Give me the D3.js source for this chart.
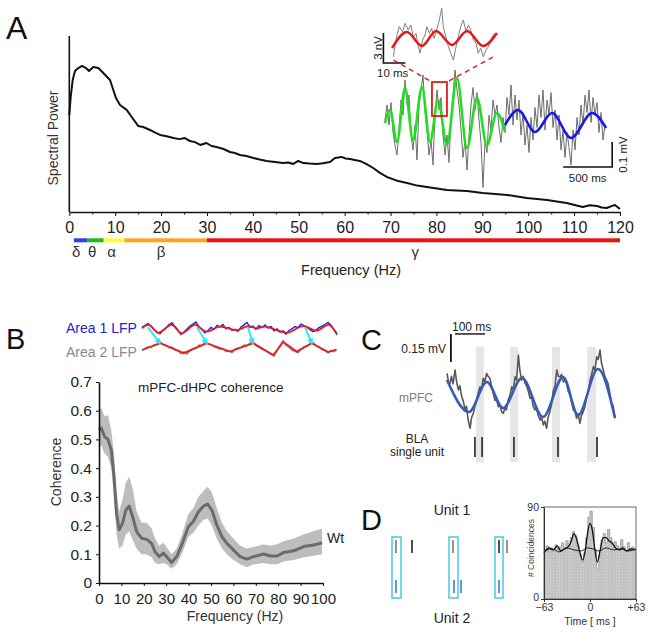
<!DOCTYPE html>
<html><head><meta charset="utf-8">
<script src="https://cdn.jsdelivr.net/npm/d3@7"></script>
<style>
body{margin:0;background:#fff}
svg{display:block}
text{font-family:"Liberation Sans",Arial,Helvetica,sans-serif}
</style>
</head><body>
<svg id="chart" width="649" height="636"></svg>
<script>
// ---------------- DATA ----------------
// Panel A: spectral power (arbitrary units) vs frequency (Hz)
const specFreq  = [0,0.3,0.74,1.24,1.96,2.77,3.64,4.29,5.23,6.32,7.41,8.87,9.59,10.17,11.05,12.5,13.6,15.0,16.1,17.6,18.6,19.8,21.2,22.7,24.0,25.2,26.3,27.4,28.5,29.9,31.0,32.1,33.6,35.0,36.1,37.2,38.6,40.1,41.5,43.0,44.8,46.6,47.7,48.8,49.9,51.0,52.4,53.9,55.3,56.8,57.9,59.3,60.2,61.2,62.2,63.3,64.8,66.2,67.7,69.2,71.4,73.6,75.8,77.9,80.1,82.3,84.4,86.6,88.4,90.1,92.8,95.4,97.6,99.7,101.9,104.1,106.2,108.4,110.1,111.9,113.4,115.0,116.0,117.1,118.0,118.9,120];
const specPower = [0.551,0.653,0.750,0.801,0.818,0.830,0.818,0.801,0.824,0.818,0.790,0.750,0.693,0.648,0.608,0.580,0.540,0.489,0.483,0.466,0.452,0.438,0.430,0.420,0.414,0.420,0.403,0.397,0.381,0.392,0.375,0.369,0.358,0.341,0.335,0.324,0.318,0.307,0.298,0.290,0.284,0.278,0.281,0.273,0.290,0.278,0.275,0.273,0.277,0.284,0.307,0.313,0.304,0.301,0.295,0.290,0.272,0.250,0.222,0.199,0.178,0.165,0.150,0.142,0.134,0.125,0.122,0.119,0.113,0.108,0.102,0.097,0.088,0.080,0.074,0.068,0.060,0.051,0.040,0.028,0.038,0.034,0.026,0.023,0.032,0.040,0.017];
const specTicks = [0,10,20,30,40,50,60,70,80,90,100,110,120];
const bandEdges = [1,4,7.5,12,30,120];
const bandSymbols = ["δ","θ","α","β","γ"];
const bandSymbolHz = [1.5,5,9.2,20,75.4];

// Panel A inset: main LFP (mV, time ms)
const insetGrayStepMs = 20.4;
const insetGray = [0.00,0.06,-0.02,0.07,-0.05,-0.10,-0.14,-0.04,0.08,0.02,0.16,0.06,0.10,-0.06,-0.12,-0.02,-0.16,0.06,0.12,0.18,0.04,-0.04,-0.14,-0.08,-0.18,0.02,0.12,0.04,0.09,-0.06,-0.14,-0.06,-0.17,0.00,0.10,0.20,0.12,0.06,-0.04,-0.15,-0.08,-0.20,-0.06,0.06,0.13,0.04,0.11,0.00,-0.09,-0.27,-0.08,-0.13,0.02,-0.04,0.08,0.02,0.06,-0.03,-0.09,0.01,-0.05,0.09,0.02,0.14,-0.02,0.10,0.00,0.08,-0.06,0.03,-0.10,-0.02,-0.13,0.01,-0.08,0.05,-0.03,0.10,0.01,0.12,-0.04,0.08,0.02,0.11,-0.03,0.04,-0.08,0.02,-0.12,-0.04,-0.15,-0.05,-0.11,-0.18,-0.04,-0.12,0.01,-0.06,0.06,-0.02,0.10,0.03,0.12,-0.01,0.09,0.02,0.07,-0.05,0.03,-0.08,-0.02];
const insetGreenMs = [0,51,122,204,286,377,459,541,632,734,836,938,1040,1142,1224];
const insetGreenMv = [-0.012,0.04,-0.088,0.128,-0.08,0.132,-0.088,0.08,-0.1,0.168,-0.112,0.088,-0.1,0.028,-0.048];
const insetBlueMs = [1224,1357,1530,1704,1898,2112,2255];
const insetBlueMv = [-0.02,0.04,-0.048,0.028,-0.072,0.028,-0.032];
// zoomed gamma snippet (nV, ms)
const zoomGrayMs = [0.6,2.1,3.3,4.8,5.9,7.4,8.5,9.7,10.9,12.0,12.7,13.9,15.0,15.8,17.0,18.0,19.1,20.3,21.5,22.6,23.3,24.5,25.6,26.7,27.9,29.1,30.1,31.2,32.4,33.6,34.7,35.8,37.0,38.2,39.2,40.3,41.5,42.7,43.8,44.8,46.0,46.6];
const zoomGrayNv = [-1.67,0.33,1.33,0.83,1.67,1.0,1.5,0.33,0.67,-0.67,-1.33,0,0.5,1.33,0.67,1.17,0.17,1.0,2.0,3.17,1.33,0.33,-0.67,-1.33,-2.0,-0.67,0.33,1.33,2.0,0.83,1.5,1.0,0,-0.33,-1.33,-0.83,-1.67,-1.0,-0.67,0,0.5,0.67];
const zoomRedMs = [0,6.8,13.6,20,27.3,34.1,41.4,47.7];
const zoomRedNv = [-0.8,0.8,-0.6,0.9,-0.5,0.9,-0.6,0.7];

// Panel B: example LFPs
const bTraceStep = 3;
const area1Blue = [0.3,0.8,1.2,0.6,-0.2,-0.9,-1.3,-0.5,0.2,1.0,1.4,0.5,-0.4,-1.5,-0.9,-0.1,0.6,1.1,1.6,0.4,-0.3,-1.1,-0.5,0.3,-0.2,0.8,0.4,1.0,-0.1,0.3,-0.5,-0.2,-0.7,0.4,0.9,1.5,0.3,0.6,-0.2,0.7,0.2,0.9,0.1,0.5,-0.6,-0.1,-0.9,-0.6,-1.4,-0.5,-0.1,0.5,0.2,1.1,0.7,0.3,-0.3,-0.8,-0.4,0.2,0.6,1.0,1.5,0.8,-0.3,-1.6];
const area1RedT = [0,6.3,16.3,29.7,39.7,53,64.7,78,94.7,106.3,114.7,123,134.7,144.7,161.3,174.7,186.3,194.7];
const area1RedV = [0.05,0.9,-1.05,0.9,-1.2,0.9,-0.8,0.45,-0.4,0.6,0.05,0.45,-0.4,-1.05,0.6,-0.55,0.9,-1.2];
const area2Gray = [-0.6,-0.1,0.3,0.2,0.8,0.9,1.5,0.9,0.7,0.1,0.2,-0.5,-0.6,-1.4,-1.0,-1.5,-0.6,-0.1,0.0,0.7,0.6,1.4,1.0,0.9,0.3,0.0,-0.3,-0.2,-0.9,-0.7,-1.1,-0.3,0.0,0.2,0.7,0.6,1.2,1.5,0.6,0.2,-0.3,-0.6,-1.1,-1.5,-2.0,-0.6,0.6,1.8,0.7,0.2,-0.6,-0.8,-1.2,-0.3,0.3,0.5,1.1,1.4,0.6,0.2,-0.4,-0.7,-1.2,-0.6,-0.9,-0.4];
const area2RedT = [0,18.3,41.7,64.7,88,111.3,131.3,141.3,154.7,169.7,186.3,194];
const area2RedV = [-0.5,1.2,-1.3,1.2,-0.9,1.2,-1.75,1.5,-0.9,1.2,-1.0,-0.4];
const arrowT = [[6,18],[55,65],[106,111],[163,170]];

// Panel B: coherence
const cohFreq = [0,1,2.5,4,5.5,6.7,7.8,9,10.5,12,13.5,15,16.8,19,21.3,23.5,25,26.9,28.7,30.2,32.4,34.7,36.9,39.9,42.1,44.4,46.7,48.5,50.4,52.6,54.9,57.1,60,63,66,69,73.5,76.5,79.5,82.4,86.9,91.4,95.8,99.6];
const cohMean = [0.533,0.54,0.51,0.50,0.463,0.37,0.244,0.185,0.208,0.254,0.268,0.231,0.179,0.156,0.152,0.138,0.109,0.092,0.104,0.092,0.071,0.092,0.132,0.196,0.214,0.248,0.268,0.275,0.254,0.202,0.161,0.138,0.115,0.092,0.083,0.092,0.101,0.094,0.094,0.106,0.112,0.127,0.132,0.140];
const cohLow  = [0.47,0.48,0.45,0.44,0.40,0.30,0.17,0.12,0.13,0.17,0.18,0.15,0.12,0.10,0.10,0.09,0.07,0.065,0.07,0.065,0.05,0.065,0.10,0.16,0.175,0.20,0.22,0.225,0.20,0.155,0.12,0.10,0.08,0.065,0.055,0.065,0.07,0.065,0.065,0.075,0.08,0.09,0.095,0.10];
const cohHigh = [0.60,0.61,0.58,0.585,0.53,0.45,0.32,0.25,0.29,0.35,0.37,0.33,0.25,0.21,0.21,0.19,0.155,0.13,0.14,0.125,0.10,0.12,0.165,0.24,0.26,0.30,0.32,0.335,0.315,0.26,0.21,0.18,0.155,0.13,0.12,0.125,0.135,0.13,0.135,0.145,0.155,0.17,0.18,0.19];
const cohXTicks = [0,10,20,30,40,50,60,70,80,90,100];
const cohYTicks = [0,0.1,0.2,0.3,0.4,0.5,0.6,0.7];

// Panel C: mPFC LFP and BLA spikes (ms, mV)
const cGray = [[0,0.116],[5,0.07],[10,0.063],[15,0.10],[20,0.06],[27,0.134],[32,0.07],[38,0.027],[43,0.05],[49,-0.009],[54,-0.03],[60,-0.080],[65,-0.06],[70,-0.13],[77,-0.178],[82,-0.12],[88,-0.098],[93,-0.06],[99,-0.027],[104,0.01],[110,0.044],[115,0.03],[121,0.090],[126,0.07],[132,0.116],[137,0.10],[143,0.090],[148,0.05],[154,0.009],[160,-0.03],[165,-0.02],[171,-0.063],[176,-0.05],[182,-0.09],[188,-0.098],[193,-0.07],[198,-0.08],[204,-0.027],[210,0.00],[216,0.044],[221,0.03],[227,0.098],[232,0.08],[238,0.214],[243,0.13],[249,0.080],[254,0.10],[260,0.063],[265,0.05],[271,0.02],[277,-0.018],[282,-0.01],[287,-0.06],[293,-0.080],[298,-0.07],[304,-0.11],[310,-0.134],[315,-0.12],[321,-0.16],[326,-0.14],[332,-0.178],[337,-0.12],[343,-0.09],[349,-0.044],[354,0.02],[360,0.05],[366,0.134],[371,0.10],[377,0.098],[382,0.11],[388,0.07],[393,0.08],[399,0.063],[404,0.02],[410,0.00],[416,-0.044],[421,-0.08],[427,-0.09],[432,-0.125],[437,-0.10],[443,-0.152],[448,-0.11],[454,-0.09],[460,-0.063],[465,-0.01],[471,0.02],[477,0.080],[482,0.11],[488,0.152],[493,0.13],[499,0.205],[504,0.19],[510,0.241],[515,0.17],[521,0.134],[526,0.10],[532,0.080],[537,0.06],[543,0.009],[548,-0.04],[554,-0.06],[560,-0.125]];
const cBlueMs = [0,73,133,187,250,320,387,437,503,560];
const cBlueMv = [0.080,-0.091,0.070,-0.070,0.091,-0.118,0.096,-0.107,0.139,-0.123];
const cShadeMs = [[97,123],[210,237],[350,377],[467,497]];
const cSpikesMs = [93,117,223,370,500];

// Panel D: raster + cross-correlogram
const dWindows = [[0,9],[57,66],[103,111]];
const unit1Spikes = [4,20,61,107,115];
const unit1Tone = ["mid","dark","mid","dark","mid"];
const unit2Spikes = [4,62,69,107];
const histBinMs = 3;
const histCenters = [-61.5,-58.5,-55.5,-52.5,-49.5,-46.5,-43.5,-40.5,-37.5,-34.5,-31.5,-28.5,-25.5,-22.5,-19.5,-16.5,-13.5,-10.5,-7.5,-4.5,-1.5,1.5,4.5,7.5,10.5,13.5,16.5,19.5,22.5,25.5,28.5,31.5,34.5,37.5,40.5,43.5,46.5,49.5,52.5,55.5,58.5,61.5];
const histCounts = [48,52,46,50,47,53,49,51,55,50,57,52,60,66,62,52,44,36,45,60,80,86,70,48,30,42,58,64,55,68,60,50,56,52,49,58,51,47,55,49,51,47];
const smoothT = [-63,-56,-50,-45,-40,-35,-30,-26,-22,-18,-14,-10,-6,-3,0,3,6,10,14,18,22,26,30,35,40,45,50,56,63];
const smoothV = [45,50,48,52,47,49,51,56,64,58,46,38,50,66,74,68,52,36,48,60,60,57,55,50,48,50,47,49,48];
const flatT = [-63,-52,-42,-32,-22,-12,-4,4,12,22,32,42,52,63];
const flatV = [47,49,46,50,48,47,50,49,47,50,48,49,47,49];

// ---------------- DRAWING ----------------
const svg = d3.select("#chart");
const FONT = '"Liberation Sans",Arial,sans-serif';
function txt(g, x, y, s, size, opts={}) {
  const t = g.append("text").attr("x", x).attr("y", y).text(s)
    .attr("font-size", size).attr("fill", opts.fill || "#222")
    .attr("text-anchor", opts.anchor || "start");
  if (opts.family) t.attr("font-family", opts.family);
  if (opts.rotate) t.attr("transform", `rotate(-90,${x},${y})`);
  if (opts.baseline) t.attr("dominant-baseline", opts.baseline);
  return t;
}
function zip(a, b) { return a.map((v, i) => [v, b[i]]); }

const defs = svg.append("defs");
const pat = defs.append("pattern").attr("id","stipple").attr("patternUnits","userSpaceOnUse")
  .attr("width",3).attr("height",3);
pat.append("rect").attr("width",3).attr("height",3).attr("fill","#c2c2c2");
pat.append("rect").attr("x",1).attr("y",1).attr("width",1).attr("height",1).attr("fill","#d0d0d0");

// Panel letters
txt(svg, 6, 39, "A", 32, {fill:"#111"});
txt(svg, 6, 349, "B", 29, {fill:"#111"});
txt(svg, 361, 350, "C", 29, {fill:"#111"});
txt(svg, 361, 530, "D", 29, {fill:"#111"});

// ===== Panel A =====
const xA = d3.scaleLinear([0,120],[69.3,620]);
const yA = d3.scaleLinear([0,1],[212,36]);
const gA = svg.append("g");
gA.append("line").attr("x1", xA(0)).attr("x2", xA(0)).attr("y1", yA(0)).attr("y2", yA(1))
  .attr("stroke","#111").attr("stroke-width",1.6);
const axA = gA.append("g").attr("transform",`translate(0,${yA(0)})`)
  .call(d3.axisBottom(xA).tickValues(specTicks).tickSize(4).tickSizeOuter(0).tickPadding(6).tickFormat(d3.format("d")));
axA.select(".domain").attr("stroke","#111").attr("stroke-width",1.4);
axA.selectAll(".tick line").attr("stroke","#111");
axA.selectAll("text").attr("font-size",16).attr("font-family",FONT).attr("fill","#222");
gA.append("g").attr("transform",`translate(0,${yA(0)})`)
  .call(d3.axisBottom(xA).tickValues(d3.range(5,120,10)).tickSize(2.5).tickFormat(""))
  .call(g => g.select(".domain").remove())
  .selectAll(".tick line").attr("stroke","#111");
gA.append("path").datum(zip(specFreq, specPower))
  .attr("d", d3.line().x(d => xA(d[0])).y(d => yA(d[1])))
  .attr("fill","none").attr("stroke","#111").attr("stroke-width",2).attr("stroke-linejoin","round");
txt(gA, 53, 138, "Spectral Power", 14, {anchor:"middle", rotate:true, fill:"#333", baseline:"central"});

// band bar
const bandColors = ["#3040ee","#20b820","#ffff30","#ffa51e","#f01010"];
for (let i = 0; i < 5; i++) {
  gA.append("rect").attr("x", xA(bandEdges[i])).attr("width", xA(bandEdges[i+1]) - xA(bandEdges[i]))
    .attr("y", 238.3).attr("height", 4).attr("fill", bandColors[i]);
  txt(gA, xA(bandSymbolHz[i]), 257, bandSymbols[i], 15, {anchor:"middle", family:'"Liberation Serif","Times New Roman",serif', fill:"#333"});
}
txt(gA, xA(61.4), 275, "Frequency (Hz)", 14.5, {anchor:"middle", fill:"#222"});

// inset main trace
const xI = d3.scaleLinear([0,2255],[385,606.1]);
const yI = d3.scaleLinear([0,0.1],[120,95]);
const lineI = d3.line().x(d => xI(d[0])).y(d => yI(d[1]));
gA.append("path").datum(insetGray.map((v,i) => [i*insetGrayStepMs, v]))
  .attr("d", lineI).attr("fill","none").attr("stroke","#6c6c6c").attr("stroke-width",1);
gA.append("path").datum(zip(insetGreenMs, insetGreenMv))
  .attr("d", lineI.curve(d3.curveMonotoneX)).attr("fill","none").attr("stroke","#22dd22").attr("stroke-width",2.6);
gA.append("path").datum(zip(insetBlueMs, insetBlueMv))
  .attr("d", lineI.curve(d3.curveMonotoneX)).attr("fill","none").attr("stroke","#1a1ae6").attr("stroke-width",2.6);
// scale bar
gA.append("path").attr("d", `M${xI(1817)},${yI(-0.188)}H${xI(2317)}V${yI(-0.088)}`)
  .attr("fill","none").attr("stroke","#111").attr("stroke-width",1.6);
txt(gA, xI(2067), 182, "500 ms", 11.5, {anchor:"middle"});
txt(gA, 623, yI(-0.138), "0.1 mV", 11.5, {anchor:"middle", rotate:true, baseline:"central"});

// zoom snippet
const xT = d3.scaleLinear([0,47.7],[392,497]);
const yT = d3.scaleLinear([0,1],[40,30]);
const lineT = d3.line().x(d => xT(d[0])).y(d => yT(d[1]));
gA.append("path").datum(zip(zoomGrayMs, zoomGrayNv)).attr("d", lineT)
  .attr("fill","none").attr("stroke","#808080").attr("stroke-width",1);
gA.append("path").datum(zip(zoomRedMs, zoomRedNv)).attr("d", lineT.curve(d3.curveMonotoneX))
  .attr("fill","none").attr("stroke","#e41a1a").attr("stroke-width",2.4);
gA.append("path").attr("d", `M${xT(-3.9)},${yT(0.7)}V${yT(-2.3)}H${xT(6.1)}`)
  .attr("fill","none").attr("stroke","#111").attr("stroke-width",1.6);
txt(gA, 378, yT(-0.8), "3 nV", 11.5, {anchor:"middle", rotate:true, baseline:"central"});
txt(gA, 377, 77, "10 ms", 11.5);
// zoom box and dashed connectors
const rx0 = xI(479), rx1 = xI(632), ry0 = yI(0.152), ry1 = yI(0.016);
gA.append("rect").attr("x", rx0).attr("y", ry0).attr("width", rx1-rx0).attr("height", ry1-ry0)
  .attr("fill","none").attr("stroke","#e41a1a").attr("stroke-width",1.8);
gA.append("line").attr("x1", xT(0.6)).attr("y1", yT(-2)).attr("x2", rx0).attr("y2", ry0)
  .attr("stroke","#e41a1a").attr("stroke-width",1.4).attr("stroke-dasharray","5,4");
gA.append("line").attr("x1", xT(45.9)).attr("y1", yT(-1.7)).attr("x2", rx1).attr("y2", ry0)
  .attr("stroke","#e41a1a").attr("stroke-width",1.4).attr("stroke-dasharray","5,4");

// ===== Panel B =====
const gB = svg.append("g");
txt(gB, 66, 333, "Area 1 LFP", 14, {fill:"#2424c8"});
txt(gB, 66, 357, "Area 2 LFP", 14, {fill:"#8a8a8a"});
const xBt = d3.scaleLinear([0,195],[142,337]);
const yTop = d3.scaleLinear([0,1],[328.5,324.5]);
const yBot = d3.scaleLinear([0,1],[348,344]);
gB.append("path").datum(area1Blue.map((v,i) => [i*bTraceStep, v]))
  .attr("d", d3.line().x(d => xBt(d[0])).y(d => yTop(d[1])))
  .attr("fill","none").attr("stroke","#2020e0").attr("stroke-width",1.4);
gB.append("path").datum(zip(area1RedT, area1RedV))
  .attr("d", d3.line().curve(d3.curveMonotoneX).x(d => xBt(d[0])).y(d => yTop(d[1])))
  .attr("fill","none").attr("stroke","#e81e1e").attr("stroke-width",1.8);
gB.append("path").datum(area2Gray.map((v,i) => [i*bTraceStep, v]))
  .attr("d", d3.line().x(d => xBt(d[0])).y(d => yBot(d[1])))
  .attr("fill","none").attr("stroke","#8a8a8a").attr("stroke-width",1.6);
gB.append("path").datum(zip(area2RedT, area2RedV))
  .attr("d", d3.line().x(d => xBt(d[0])).y(d => yBot(d[1])))
  .attr("fill","none").attr("stroke","#e81e1e").attr("stroke-width",1.8);
defs.append("marker").attr("id","cyanHead").attr("viewBox","0 0 10 10")
  .attr("refX",8).attr("refY",5).attr("markerWidth",3.2).attr("markerHeight",3.2).attr("orient","auto")
  .append("path").attr("d","M0,0L10,5L0,10Z").attr("fill","#30e6f0");
arrowT.forEach(a => {
  gB.append("line").attr("x1", xBt(a[0])).attr("y1", yTop(0.3)).attr("x2", xBt(a[1])).attr("y2", yBot(1.1))
    .attr("stroke","#30e6f0").attr("stroke-width",2).attr("marker-end","url(#cyanHead)");
});

const xB = d3.scaleLinear([0,100],[99,323]);
const yB = d3.scaleLinear([0,0.7],[583,382]);
gB.append("path").datum(cohFreq.map((f,i) => [f, cohLow[i], cohHigh[i]]))
  .attr("d", d3.area().x(d => xB(d[0])).y0(d => yB(d[1])).y1(d => yB(d[2])))
  .attr("fill","#bdbdbd");
gB.append("path").datum(zip(cohFreq, cohMean))
  .attr("d", d3.line().x(d => xB(d[0])).y(d => yB(d[1])))
  .attr("fill","none").attr("stroke","#6b6b6b").attr("stroke-width",3).attr("stroke-linejoin","round");
const axBx = gB.append("g").attr("transform",`translate(0,${yB(0)})`)
  .call(d3.axisBottom(xB).tickValues(cohXTicks).tickSize(3).tickSizeOuter(0).tickPadding(7));
const axBy = gB.append("g").attr("transform",`translate(${xB(0)},0)`)
  .call(d3.axisLeft(yB).tickValues(cohYTicks).tickSize(3).tickSizeOuter(0).tickPadding(4)
        .tickFormat(d => d === 0 ? "0" : d3.format(".1f")(d)));
[axBx, axBy].forEach(a => {
  a.select(".domain").attr("stroke","#111").attr("stroke-width",1.6);
  a.selectAll(".tick line").attr("stroke","#111");
  a.selectAll("text").attr("font-size",15.5).attr("font-family",FONT).attr("fill","#222");
});
axBx.selectAll("text").attr("font-size",15);
txt(gB, 56, 472, "Coherence", 14, {anchor:"middle", rotate:true, baseline:"central", fill:"#333"});
txt(gB, 235, 621, "Frequency (Hz)", 14, {anchor:"middle", fill:"#333"});
txt(gB, 138, 392, "mPFC-dHPC coherence", 13.5, {fill:"#222"});
txt(gB, 327, 543, "Wt", 14, {fill:"#222"});

// ===== Panel C =====
const gC = svg.append("g");
const xC = d3.scaleLinear([0,560],[447,615]);
const yC = d3.scaleLinear([0,0.15],[395,367]);
cShadeMs.forEach(s => {
  gC.append("rect").attr("x", xC(s[0])).attr("width", xC(s[1]) - xC(s[0]))
    .attr("y", 347).attr("height", 115).attr("fill","#e6e6e6");
});
gC.append("path").datum(cGray).attr("d", d3.line().x(d => xC(d[0])).y(d => yC(d[1])))
  .attr("fill","none").attr("stroke","#585858").attr("stroke-width",1.6).attr("stroke-linejoin","round");
gC.append("path").datum(zip(cBlueMs, cBlueMv))
  .attr("d", d3.line().curve(d3.curveMonotoneX).x(d => xC(d[0])).y(d => yC(d[1])))
  .attr("fill","none").attr("stroke","#3a5bb5").attr("stroke-width",2.6);
cSpikesMs.forEach(t => {
  gC.append("line").attr("x1", xC(t)).attr("x2", xC(t)).attr("y1", 437).attr("y2", 457)
    .attr("stroke","#3a3a3a").attr("stroke-width",1.8);
});
gC.append("line").attr("x1", xC(13)).attr("x2", xC(13)).attr("y1", yC(0.327)).attr("y2", yC(0.177))
  .attr("stroke","#111").attr("stroke-width",1.8);
gC.append("line").attr("x1", xC(27)).attr("x2", xC(127)).attr("y1", yC(0.327)).attr("y2", yC(0.327))
  .attr("stroke","#111").attr("stroke-width",1.4);
txt(gC, 452, 331, "100 ms", 12);
txt(gC, 446, 353, "0.15 mV", 12, {anchor:"end"});
txt(gC, 416, 402, "mPFC", 12, {anchor:"middle", fill:"#7a7a7a"});
txt(gC, 417, 443, "BLA", 12, {anchor:"middle"});
txt(gC, 417, 456, "single unit", 12, {anchor:"middle"});

// ===== Panel D =====
const gD = svg.append("g");
txt(gD, 452, 515, "Unit 1", 14, {anchor:"middle"});
txt(gD, 452, 623, "Unit 2", 14, {anchor:"middle"});
const xD = d3.scaleLinear([0,115],[392,507]);
dWindows.forEach(w => {
  gD.append("rect").attr("x", xD(w[0])).attr("width", xD(w[1]) - xD(w[0]))
    .attr("y", 537).attr("height", 61).attr("fill","none").attr("stroke","#3cc6dc").attr("stroke-width",1.4);
});
unit1Spikes.forEach((t,i) => {
  gD.append("line").attr("x1", xD(t)).attr("x2", xD(t)).attr("y1", 540).attr("y2", 553)
    .attr("stroke", unit1Tone[i] === "dark" ? "#222" : "#7a7a6a").attr("stroke-width",1.6);
});
unit2Spikes.forEach(t => {
  gD.append("line").attr("x1", xD(t)).attr("x2", xD(t)).attr("y1", 580).attr("y2", 593)
    .attr("stroke","#4a78d0").attr("stroke-width",1.6);
});

const xH = d3.scaleLinear([-63,63],[544,636]);
const yH = d3.scaleLinear([0,90],[599,507]);
gD.selectAll(".hbar").data(zip(histCenters, histCounts)).join("rect")
  .attr("x", d => xH(d[0] - histBinMs/2)).attr("width", xH(histBinMs) - xH(0) + 0.3)
  .attr("y", d => yH(d[1])).attr("height", d => yH(0) - yH(d[1]))
  .attr("fill","url(#stipple)");
gD.append("path").datum(zip(histCenters, histCounts))
  .attr("d", d3.line().curve(d3.curveStep).x(d => xH(d[0])).y(d => yH(d[1])))
  .attr("fill","none").attr("stroke","#9a9a9a").attr("stroke-width",0.8);
gD.append("path").datum(zip(flatT, flatV))
  .attr("d", d3.line().curve(d3.curveMonotoneX).x(d => xH(d[0])).y(d => yH(d[1])))
  .attr("fill","none").attr("stroke","#222").attr("stroke-width",1);
gD.append("path").datum(zip(smoothT, smoothV))
  .attr("d", d3.line().curve(d3.curveMonotoneX).x(d => xH(d[0])).y(d => yH(d[1])))
  .attr("fill","none").attr("stroke","#111").attr("stroke-width",1.3);
gD.append("rect").attr("x", xH(-63)).attr("y", yH(90)).attr("width", xH(63)-xH(-63)).attr("height", yH(0)-yH(90))
  .attr("fill","none").attr("stroke","#444").attr("stroke-width",0.8);
const axHx = gD.append("g").attr("transform",`translate(0,${yH(0)})`)
  .call(d3.axisBottom(xH).tickValues([-63,0,63]).tickSize(3).tickSizeOuter(0).tickPadding(1)
        .tickFormat(d => d > 0 ? "+" + d : d < 0 ? "\u221263" : "0"));
const axHy = gD.append("g").attr("transform",`translate(${xH(-63)},0)`)
  .call(d3.axisLeft(yH).tickValues([0,90]).tickSize(3).tickSizeOuter(0).tickPadding(2));
[axHx, axHy].forEach(a => {
  a.select(".domain").attr("stroke","#333").attr("stroke-width",1);
  a.selectAll(".tick line").attr("stroke","#333");
  a.selectAll("text").attr("font-size",10.5).attr("font-family",FONT).attr("fill","#333");
});
axHy.selectAll(".tick text").filter(d => d === 0).attr("dy","0.1em");
axHx.selectAll(".tick text").attr("dy","0.75em");
txt(gD, 590, 625, "Time [ ms ]", 10.5, {anchor:"middle", fill:"#333"});
txt(gD, 531, 548, "# Coincidences", 8.5, {anchor:"middle", rotate:true, baseline:"central", fill:"#444"});
</script>
</body></html>
